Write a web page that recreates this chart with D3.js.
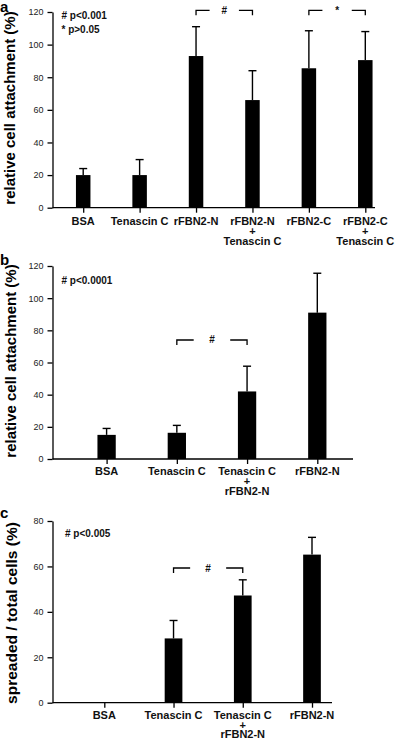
<!DOCTYPE html>
<html>
<head>
<meta charset="utf-8">
<script src="https://cdn.jsdelivr.net/npm/d3@7/dist/d3.min.js"></script>
<style>
  html, body { margin: 0; padding: 0; background: #fff; }
  svg { display: block; }
  text { font-family: "Liberation Sans", Arial, sans-serif; }
</style>
</head>
<body>
<svg id="chart" width="400" height="739"></svg>
<script>
// ---------- DATA ----------
const categoriesA = ["BSA", "Tenascin C", "rFBN2-N", "rFBN2-N|+|Tenascin C", "rFBN2-C", "rFBN2-C|+|Tenascin C"];
const valuesA = [20, 20, 93, 66, 85.5, 90.5];
const errorsA = [4, 9.5, 18, 18, 23, 17.5];
const ticksA = [0, 20, 40, 60, 80, 100, 120];
const bracketsA = [{ from: 2, to: 3, value: 121, mark: "#" }, { from: 4, to: 5, value: 121, mark: "*" }];
const notesA = ["# p<0.001", "* p>0.05"];

const categoriesB = ["BSA", "Tenascin C", "Tenascin C|+|rFBN2-N", "rFBN2-N"];
const valuesB = [15, 16.3, 42, 91];
const errorsB = [4, 4.6, 15.7, 24.5];
const ticksB = [0, 20, 40, 60, 80, 100, 120];
const bracketsB = [{ from: 1, to: 2, value: 74, mark: "#" }];
const notesB = ["# p<0.0001"];

const categoriesC = ["BSA", "Tenascin C", "Tenascin C|+|rFBN2-N", "rFBN2-N"];
const valuesC = [0.3, 28.3, 47.2, 65.2];
const errorsC = [0, 7.9, 6.9, 7.6];
const ticksC = [0, 20, 40, 60, 80];
const bracketsC = [{ from: 1, to: 2, value: 59.3, mark: "#" }];
const notesC = ["# p<0.005"];

// ---------- DRAW ----------
const svg = d3.select("#chart");

function drawPanel(o) {
  const g = svg.append("g");
  const y = d3.scaleLinear().domain([0, o.ticks[o.ticks.length - 1]]).range(o.yRange);
  const x = d3.scalePoint().domain(o.cats).range(o.xRange);
  const axisX = 52.5;

  // bars
  g.selectAll("rect.bar").data(o.vals).enter().append("rect")
    .attr("x", (d, i) => x(o.cats[i]) - o.bw / 2)
    .attr("width", o.bw)
    .attr("y", d => y(d))
    .attr("height", d => y(0) - y(d))
    .attr("fill", "#000");

  // error bars
  o.vals.forEach((v, i) => {
    if (o.errs[i] <= 0) return;
    const cx = x(o.cats[i]);
    g.append("line").attr("x1", cx).attr("x2", cx)
      .attr("y1", y(v)).attr("y2", y(v + o.errs[i]))
      .attr("stroke", "#000").attr("stroke-width", 1.4);
    g.append("line").attr("x1", cx - 4).attr("x2", cx + 4)
      .attr("y1", y(v + o.errs[i])).attr("y2", y(v + o.errs[i]))
      .attr("stroke", "#000").attr("stroke-width", 1.4);
  });

  // y axis
  const ya = g.append("g").attr("transform", `translate(${axisX},0)`)
    .call(d3.axisLeft(y).tickValues(o.ticks).tickSize(5).tickSizeOuter(0).tickPadding(4));
  ya.selectAll("path,line").attr("stroke", "#000").attr("stroke-width", 1.3);
  ya.selectAll("text").attr("font-size", 9).attr("fill", "#222")
    .style("font-family", "'Liberation Sans', Arial, sans-serif");

  // x axis
  g.append("line").attr("x1", axisX).attr("x2", o.axisRight)
    .attr("y1", y(0)).attr("y2", y(0)).attr("stroke", "#000").attr("stroke-width", 1.3);
  const xa = g.append("g").attr("transform", `translate(0,${y(0)})`)
    .call(d3.axisBottom(x).tickSize(5).tickFormat(""));
  xa.select(".domain").remove();
  xa.selectAll("line").attr("stroke", "#000").attr("stroke-width", 1.3);

  // x labels (multi-line)
  o.cats.forEach(c => {
    const lines = c.split("|");
    const t = g.append("text").attr("text-anchor", "middle")
      .attr("font-size", 11).attr("font-weight", "bold").attr("fill", "#111");
    lines.forEach((ln, j) => {
      t.append("tspan").attr("x", x(c)).attr("y", o.xLabelY + j * o.xLineGap).text(ln);
    });
  });

  // y label
  g.append("text")
    .attr("transform", `translate(${o.yLabelX},${o.yLabelY}) rotate(-90)`)
    .attr("text-anchor", "middle").attr("font-size", o.yLabelSize).attr("font-weight", "bold")
    .attr("fill", "#000").text(o.yLabel);

  // panel letter
  g.append("text").attr("x", 0).attr("y", o.letterY)
    .attr("font-size", 15).attr("font-weight", "bold").attr("fill", "#000").text(o.letter);

  // notes
  o.notes.forEach((n, j) => {
    g.append("text").attr("x", o.noteX).attr("y", o.noteY + j * 14)
      .attr("font-size", 10).attr("font-weight", "bold").attr("fill", "#111")
      .attr("xml:space", "preserve").text(n);
  });

  // significance brackets
  o.brackets.forEach(b => {
    const x1 = x(o.cats[b.from]), x2 = x(o.cats[b.to]);
    const yy = y(b.value);
    const seg = (x2 - x1) * 0.24;
    g.append("path")
      .attr("d", `M${x1},${yy + 5}V${yy}H${x1 + seg}`)
      .attr("fill", "none").attr("stroke", "#000").attr("stroke-width", 1.3);
    g.append("path")
      .attr("d", `M${x2 - seg},${yy}H${x2}V${yy + 5}`)
      .attr("fill", "none").attr("stroke", "#000").attr("stroke-width", 1.3);
    g.append("text").attr("x", (x1 + x2) / 2).attr("y", yy + 3.5)
      .attr("text-anchor", "middle").attr("font-size", 10).attr("font-weight", "bold")
      .attr("fill", "#111").text(b.mark);
  });
}

drawPanel({
  cats: categoriesA, vals: valuesA, errs: errorsA, ticks: ticksA, brackets: bracketsA, notes: notesA,
  yRange: [207.7, 12], xRange: [83.2, 365.3], bw: 14.5, axisRight: 375,
  xLabelY: 225, xLineGap: 10, yLabel: "relative cell attachment (%)", yLabelX: 15, yLabelY: 108, yLabelSize: 15,
  letter: "a", letterY: 12, noteX: 61.5, noteY: 18.5
});
drawPanel({
  cats: categoriesB, vals: valuesB, errs: errorsB, ticks: ticksB, brackets: bracketsB, notes: notesB,
  yRange: [459, 266], xRange: [106.6, 317.3], bw: 18.3, axisRight: 353,
  xLabelY: 475, xLineGap: 10, yLabel: "relative cell attachment (%)", yLabelX: 16, yLabelY: 361, yLabelSize: 15,
  letter: "b", letterY: 265, noteX: 61.5, noteY: 283.5
});
drawPanel({
  cats: categoriesC, vals: valuesC, errs: errorsC, ticks: ticksC, brackets: bracketsC, notes: notesC,
  yRange: [702.7, 521], xRange: [104.3, 312], bw: 17.7, axisRight: 332,
  xLabelY: 719, xLineGap: 9.5, yLabel: "spreaded / total cells (%)", yLabelX: 17, yLabelY: 613, yLabelSize: 15.5,
  letter: "c", letterY: 518, noteX: 65, noteY: 537
});
</script>
</body>
</html>
